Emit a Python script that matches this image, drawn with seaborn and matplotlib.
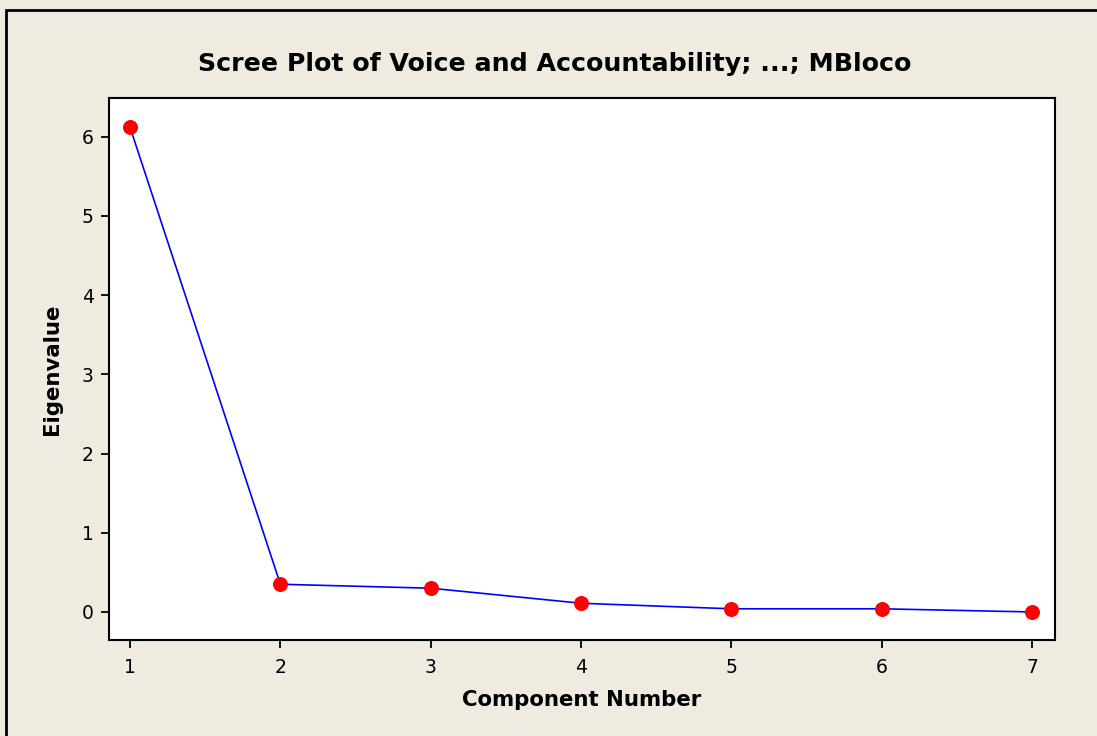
import matplotlib
matplotlib.use("Agg")
import matplotlib.pyplot as plt
import seaborn as sns
import pandas as pd
from matplotlib.patches import Rectangle

# scree plot values
components = [1, 2, 3, 4, 5, 6, 7]
eigenvalues = [6.12, 0.35, 0.30, 0.11, 0.04, 0.04, 0.0]

BG = "#EFEBE1"

sns.set_theme(style="white")
plt.rcParams["font.family"] = ["DejaVu Sans"]
plt.rcParams["text.color"] = "black"
plt.rcParams["axes.labelcolor"] = "black"

df = pd.DataFrame({"component": components, "eigenvalue": eigenvalues})

fig = plt.figure(figsize=(10.97, 7.36), dpi=100, facecolor=BG)
ax = fig.add_axes([109 / 1097, 1 - 640 / 736, (1055 - 109) / 1097, (640 - 98) / 736])
ax.set_facecolor("white")

sns.lineplot(data=df, x="component", y="eigenvalue", ax=ax, color="#0000FF",
             linewidth=1.2, marker="o", markersize=10, markerfacecolor="#FF0000",
             markeredgecolor="#FF0000", zorder=3)

ax.set_xlim(0.86, 7.153)
ax.set_ylim(-0.354, 6.49)
ax.set_xticks(components)
ax.set_yticks(range(0, 7))
ax.tick_params(axis="both", direction="out", length=6, width=1.3, color="black",
               labelsize=13.5, labelcolor="black", bottom=True, left=True)
ax.tick_params(axis="x", pad=7)
ax.tick_params(axis="y", pad=5)
for s in ax.spines.values():
    s.set_color("black")
    s.set_linewidth(1.5)

ax.set_xlabel("Component Number", fontsize=15.3, fontweight="bold", labelpad=9)
ax.set_ylabel("Eigenvalue", fontsize=15.3, fontweight="bold", labelpad=14)
fig.text(555 / 1097, 1 - 64 / 736, "Scree Plot of Voice and Accountability; ...; MBloco",
         ha="center", va="center", fontsize=18.2, fontweight="bold")

# outer frame of the graph window
fig.patches.append(Rectangle((6 / 1097, -0.05), 1.1, 1 - 10 / 736 + 0.05,
                             transform=fig.transFigure, fill=False,
                             edgecolor="black", linewidth=2))

fig.savefig("out.png", dpi=100, facecolor=BG)
